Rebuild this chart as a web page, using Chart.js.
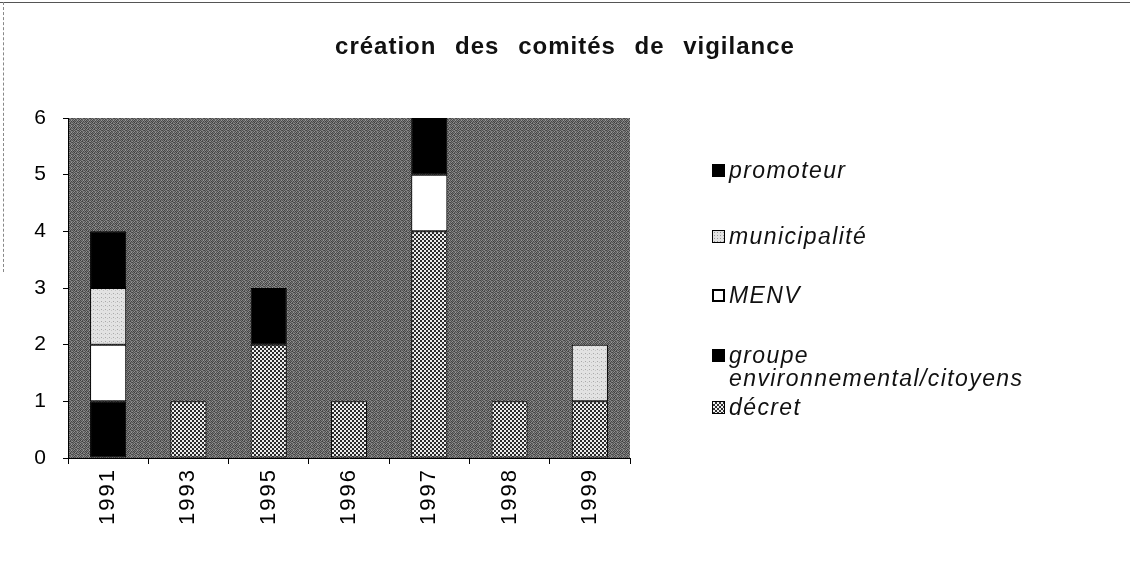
<!DOCTYPE html>
<html>
<head>
<meta charset="utf-8">
<script src="https://cdn.jsdelivr.net/npm/chart.js@4"></script>
<style>
  html, body { margin: 0; padding: 0; background: #fff; }
  #wrap { position: relative; width: 1130px; height: 568px; overflow: hidden; font-family: "Liberation Sans", Arial, sans-serif; }
  #frameTop { position: absolute; left: 0; top: 2px; width: 1130px; height: 0; border-top: 1px solid #555; }
  #frameLeft { position: absolute; left: 3px; top: 2px; width: 0; height: 270px; border-left: 1px dashed #888; }
  #title { position: absolute; left: 0; top: 32px; width: 1130px; text-align: center; font-weight: bold; font-size: 24px; letter-spacing: 1px; word-spacing: 11px; color: #111; }
  #legend { position: absolute; left: 712px; top: 0; font-style: italic; font-size: 23px; letter-spacing: 1.4px; color: #111; }
  .item { position: absolute; left: 0; white-space: nowrap; line-height: 23px; }
  .sw { position: absolute; left: 0; top: 5px; width: 13px; height: 13px; box-sizing: border-box; border: 1px solid #000; }
  .txt { position: absolute; left: 17px; top: 0; }
  canvas { position: absolute; left: 0; top: 0; }
</style>
</head>
<body>
<div id="wrap">
  <canvas id="chart" width="1130" height="568"></canvas>
  <div id="frameTop"></div>
  <div id="frameLeft"></div>
  <div id="title">création des comités de vigilance</div>
  <div id="legend"></div>
</div>
<script>
// ====== Data ======
const years = ['1991', '1993', '1995', '1996', '1997', '1998', '1999'];
// stacked from bottom to top
const decret = [0, 1, 2, 1, 4, 1, 1];
const groupe = [1, 0, 0, 0, 0, 0, 0];
const menv = [1, 0, 0, 0, 1, 0, 0];
const municipalite = [1, 0, 0, 0, 0, 0, 1];
const promoteur = [1, 0, 1, 0, 1, 0, 0];
const yTicks = [0, 1, 2, 3, 4, 5, 6];

// ====== Patterns ======
function makePattern(size, painter) {
  const c = document.createElement('canvas');
  c.width = size; c.height = size;
  painter(c.getContext('2d'));
  return c;
}

// background: coarse gray texture (fixed dither matrix)
const bgLevels = [
  [80, 140, 72, 120, 88, 150],
  [128, 64, 108, 76, 136, 68],
  [84, 124, 60, 146, 80, 116],
  [142, 74, 132, 84, 66, 126],
  [70, 112, 82, 124, 140, 76],
  [118, 78, 148, 68, 100, 130]
];
const bgCanvas = makePattern(6, g => {
  for (let y = 0; y < 6; y++) {
    for (let x = 0; x < 6; x++) {
      const v = bgLevels[y][x];
      g.fillStyle = `rgb(${v},${v},${v})`;
      g.fillRect(x, y, 1, 1);
    }
  }
});

const checkCanvas = makePattern(4, g => {
  g.fillStyle = '#ececec'; g.fillRect(0, 0, 4, 4);
  g.fillStyle = '#2a2a2a'; g.fillRect(0, 0, 2, 2); g.fillRect(2, 2, 2, 2);
});

const dotCanvas = makePattern(4, g => {
  g.fillStyle = '#e2e2e2'; g.fillRect(0, 0, 4, 4);
  g.fillStyle = '#a8a8a8'; g.fillRect(1, 1, 1, 1);
  g.fillStyle = '#c4c4c4'; g.fillRect(3, 2, 1, 1);
});

const ctx = document.getElementById('chart').getContext('2d');
const bgPattern = ctx.createPattern(bgCanvas, 'repeat');
const checkPattern = ctx.createPattern(checkCanvas, 'repeat');
const dotPattern = ctx.createPattern(dotCanvas, 'repeat');

// plot area background + a bit of letter spacing for tick labels
const plotBackground = {
  id: 'plotBackground',
  beforeDraw(chart) {
    const a = chart.chartArea;
    const g = chart.ctx;
    g.letterSpacing = '2px';
    g.save();
    g.fillStyle = bgPattern;
    g.fillRect(a.left, a.top, a.right - a.left, a.bottom - a.top);
    g.restore();
  }
};

function zeroless(color) {
  return c => (c.raw ? color : 'rgba(0,0,0,0)');
}

const series = [
  { label: 'décret', data: decret, fill: checkPattern },
  { label: 'groupe environnemental/citoyens', data: groupe, fill: '#000000' },
  { label: 'MENV', data: menv, fill: '#ffffff' },
  { label: 'municipalité', data: municipalite, fill: dotPattern },
  { label: 'promoteur', data: promoteur, fill: '#000000' }
];

new Chart(ctx, {
  type: 'bar',
  data: {
    labels: years,
    datasets: series.map(s => ({
      label: s.label,
      data: s.data,
      backgroundColor: s.fill,
      borderColor: zeroless('#000000'),
      borderWidth: c => (c.raw ? 1 : 0),
      borderSkipped: false,
      categoryPercentage: 1,
      barPercentage: 0.45
    }))
  },
  options: {
    responsive: false,
    animation: false,
    layout: { padding: { top: 118, right: 500, left: 0, bottom: 0 } },
    plugins: {
      legend: { display: false },
      title: { display: false },
      tooltip: { enabled: false }
    },
    scales: {
      x: {
        stacked: true,
        offset: true,
        border: { display: true, color: '#000', width: 1 },
        grid: { display: true, drawOnChartArea: false, offset: true, color: '#000', tickLength: 6 },
        ticks: {
          color: '#000',
          font: { family: '"Liberation Sans", Arial, sans-serif', size: 22 },
          minRotation: 90, maxRotation: 90,
          padding: 4
        },
        afterFit(scale) { scale.height = 110; }
      },
      y: {
        stacked: true,
        min: 0,
        max: 6,
        border: { display: true, color: '#000', width: 1 },
        grid: { display: true, drawOnChartArea: false, color: '#000', tickLength: 5 },
        afterBuildTicks(scale) { scale.ticks = yTicks.map(v => ({ value: v })); },
        ticks: {
          color: '#000',
          font: { family: '"Liberation Sans", Arial, sans-serif', size: 21 },
          padding: 15
        },
        afterFit(scale) { scale.width = 68; }
      }
    }
  },
  plugins: [plotBackground]
});

// ====== Legend (HTML, right side) ======
const legendItems = [
  { text: 'promoteur', top: 159, swatch: 'background:#000;' },
  { text: 'municipalité', top: 225, swatch: 'background:#e2e2e2 radial-gradient(#999 0.6px, transparent 0.8px) 0 0/3px 3px;' },
  { text: 'MENV', top: 284, swatch: 'background:#fff;border-width:2px;' },
  { text: 'groupe<br>environnemental/citoyens', top: 344, swatch: 'background:#000;' },
  { text: 'décret', top: 396, swatch: 'background:repeating-conic-gradient(#333 0 25%, #eee 0 50%) 0 0/4px 4px;' }
];
const legendEl = document.getElementById('legend');
legendItems.forEach(it => {
  const d = document.createElement('div');
  d.className = 'item';
  d.style.top = it.top + 'px';
  d.innerHTML = `<span class="sw" style="${it.swatch}"></span><span class="txt">${it.text}</span>`;
  legendEl.appendChild(d);
});
</script>
</body>
</html>
